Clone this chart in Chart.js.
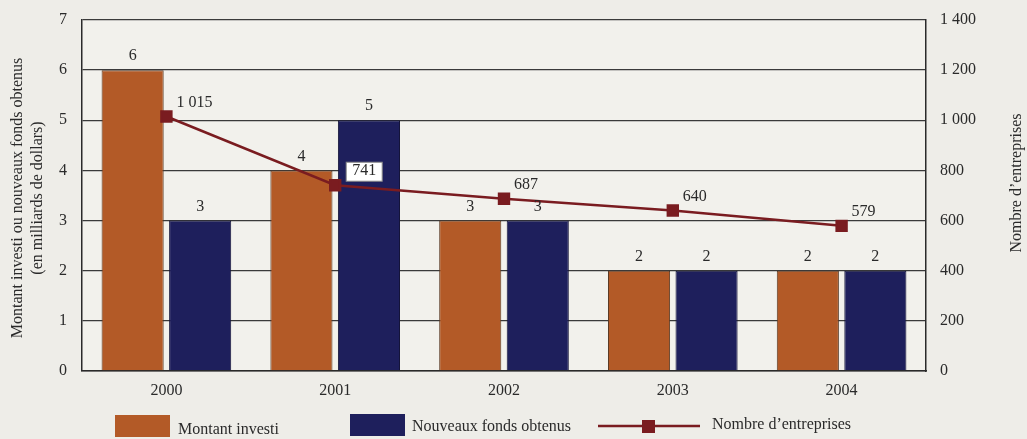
<!DOCTYPE html>
<html><head><meta charset="utf-8">
<script src="https://cdn.jsdelivr.net/npm/chart.js@4"></script>
<style>
html,body{margin:0;padding:0;background:#eeede8;}
#wrap{width:1027px;height:439px;position:relative;}
</style></head>
<body><div id="wrap"><canvas id="c" width="1027" height="439"></canvas></div>
<script>
const categories = ['2000','2001','2002','2003','2004'];
const montantInvesti = [6, 4, 3, 2, 2];
const nouveauxFonds = [3, 5, 3, 2, 2];
const nombreEntreprises = [1015, 741, 687, 640, 579];
const leftTicks = [0,1,2,3,4,5,6,7];
const rightTicks = [0,200,400,600,800,1000,1200,1400];

const ORANGE = '#b35a27', NAVY = '#1e1f5c', LINE = '#7a1c20';
const FONT = '"Liberation Serif", "DejaVu Serif", serif';
const TXT = '#2a2a2a';

function fmt(v){ return String(v).replace(/\B(?=(\d{3})+(?!\d))/g, '\u00a0'); }

const decor = {
  id:'decor',
  beforeDraw(chart){
    const {ctx, chartArea:a} = chart;
    ctx.save();
    ctx.fillStyle = '#f2f1ec';
    ctx.fillRect(a.left, a.top, a.right-a.left, a.bottom-a.top);
    ctx.restore();
  },
  afterDatasetsDraw(chart){
    const ctx = chart.ctx;
    ctx.save();
    ctx.font = '16px ' + FONT;
    ctx.fillStyle = TXT;
    ctx.textAlign = 'center';
    ctx.textBaseline = 'bottom';
    [0,1].forEach(di=>{
      const meta = chart.getDatasetMeta(di);
      meta.data.forEach((el,i)=>{
        ctx.fillText(String(chart.data.datasets[di].data[i]), el.x, el.y - 6);
      });
    });
    const lm = chart.getDatasetMeta(2);
    ctx.textAlign = 'left';
    ctx.textBaseline = 'middle';
    lm.data.forEach((el,i)=>{
      const t = fmt(chart.data.datasets[2].data[i]);
      const x = el.x + 10, y = el.y - 14;
      if (i === 1) {
        const w = ctx.measureText(t).width;
        ctx.fillStyle = '#ffffff';
        ctx.strokeStyle = '#888';
        ctx.lineWidth = 1;
        ctx.fillRect(x+1, y-9, w+12, 19);
        ctx.strokeRect(x+1, y-9, w+12, 19);
        ctx.fillStyle = TXT;
        ctx.fillText(t, x+7, y);
      } else {
        ctx.fillStyle = TXT;
        ctx.fillText(t, x, y);
      }
    });
    ctx.restore();
  },
  afterDraw(chart){
    const ctx = chart.ctx;
    ctx.save();
    ctx.font = '16px ' + FONT;
    ctx.fillStyle = TXT;
    ctx.textAlign = 'center';
    ctx.textBaseline = 'middle';
    // left title
    ctx.save();
    ctx.translate(18, 198);
    ctx.rotate(-Math.PI/2);
    ctx.fillText('Montant investi ou nouveaux fonds obtenus', 0, 0);
    ctx.fillText('(en milliards de dollars)', 0, 20);
    ctx.restore();
    // right title
    ctx.save();
    ctx.translate(1017, 183);
    ctx.rotate(-Math.PI/2);
    ctx.fillText('Nombre d\u2019entreprises', 0, 0);
    ctx.restore();
    // legend
    ctx.textAlign = 'left';
    ctx.fillStyle = ORANGE;
    ctx.fillRect(115, 415, 55, 22);
    ctx.fillStyle = NAVY;
    ctx.fillRect(350, 414, 55, 22);
    ctx.strokeStyle = LINE; ctx.lineWidth = 2.5;
    ctx.beginPath(); ctx.moveTo(598, 426); ctx.lineTo(700, 426); ctx.stroke();
    ctx.fillStyle = LINE;
    ctx.fillRect(642, 420, 13, 13);
    ctx.fillStyle = TXT;
    ctx.fillText('Montant investi', 178, 430);
    ctx.fillText('Nouveaux fonds obtenus', 412, 427);
    ctx.fillText('Nombre d\u2019entreprises', 712, 425);
    ctx.restore();
  }
};

new Chart(document.getElementById('c'), {
  data: {
    labels: categories,
    datasets: [
      {type:'bar', label:'Montant investi', data: montantInvesti, backgroundColor: ORANGE, borderColor:'#5a3a25', borderWidth:1, yAxisID:'y', order:2, barPercentage:0.92, categoryPercentage:0.8},
      {type:'bar', label:'Nouveaux fonds obtenus', data: nouveauxFonds, backgroundColor: NAVY, borderColor:'#15153a', borderWidth:1, yAxisID:'y', order:2, barPercentage:0.92, categoryPercentage:0.8},
      {type:'line', label:'Nombre d\u2019entreprises', data: nombreEntreprises, borderColor: LINE, backgroundColor: LINE, borderWidth:2.5, pointStyle:'rect', pointRadius:7, pointHoverRadius:7, yAxisID:'y1', order:0, tension:0}
    ]
  },
  options: {
    responsive:false, animation:false, devicePixelRatio:1,
    layout:{padding:{top:20, left:0, right:0, bottom:0}},
    plugins:{legend:{display:false}, tooltip:{enabled:false}},
    scales:{
      x:{
        offset:true,
        grid:{display:false, drawTicks:false},
        border:{display:true, color:'#2a2a2a', width:1.5},
        ticks:{font:{family:FONT, size:16}, color:TXT, padding:10},
        afterFit(s){ s.height = 68; s.paddingLeft = 0; s.paddingRight = 0; }
      },
      y:{
        position:'left', min:0, max:7,
        afterBuildTicks(s){ s.ticks = leftTicks.map(v=>({value:v})); },
        grid:{color:'#3a3a3a', lineWidth:1.3, drawTicks:false},
        border:{display:true, color:'#2a2a2a', width:1.5},
        ticks:{font:{family:FONT, size:16}, color:TXT, padding:15},
        afterFit(s){ s.width = 82; s.paddingTop = 0; s.paddingBottom = 0; }
      },
      y1:{
        position:'right', min:0, max:1400,
        afterBuildTicks(s){ s.ticks = rightTicks.map(v=>({value:v})); },
        grid:{display:false, drawTicks:false},
        border:{display:true, color:'#2a2a2a', width:1.5},
        ticks:{font:{family:FONT, size:16}, color:TXT, padding:14, callback:(v)=>fmt(v)},
        afterFit(s){ s.width = 101; s.paddingTop = 0; s.paddingBottom = 0; }
      }
    }
  },
  plugins:[decor]
});
</script></body></html>
